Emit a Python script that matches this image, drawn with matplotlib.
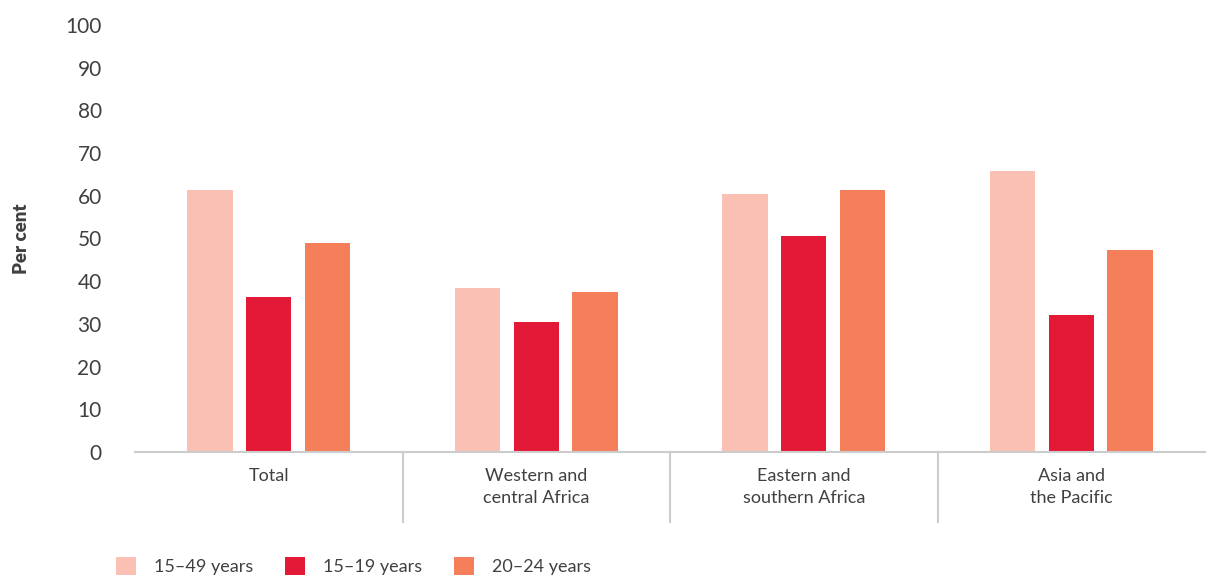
import matplotlib
matplotlib.use("Agg")
import matplotlib.pyplot as plt
from matplotlib.patches import Patch
import numpy as np

plt.rcParams['font.family'] = ['Lato', 'DejaVu Sans']

categories = ["Total", "Western and\ncentral Africa", "Eastern and\nsouthern Africa", "Asia and\nthe Pacific"]
series_names = ["15\u201349 years", "15\u201319 years", "20\u201324 years"]
v_15_49 = [61.4, 38.3, 60.5, 65.9]
v_15_19 = [36.4, 30.4, 50.7, 32.1]
v_20_24 = [49.0, 37.4, 61.4, 47.2]
yticks = list(range(0, 101, 10))

colors = ["#F9C0B3", "#E31937", "#F47F5A"]
text_color = "#404040"

fig = plt.figure(figsize=(12.14, 5.76), dpi=100)
ax = fig.add_axes([135/1214, 124/576, 1070/1214, (452-25)/576])

x = np.arange(len(categories))
width = 0.17
step = 0.22
for i, (vals, c) in enumerate(zip([v_15_49, v_15_19, v_20_24], colors)):
    ax.bar(x + (i-1)*step, vals, width, color=c, zorder=2)

ax.set_xlim(-0.5, len(categories)-0.5)
ax.set_ylim(0, 100)
ax.set_yticks(yticks)
ax.set_yticklabels([str(t) for t in yticks], fontsize=15, color=text_color)
ax.tick_params(axis='y', length=0, pad=24)
ax.set_xticks([])
for s in ["top", "right", "left"]:
    ax.spines[s].set_visible(False)
ax.spines["bottom"].set_color("#CCCCCC")
ax.spines["bottom"].set_linewidth(1.5)
ax.set_ylabel("Per cent", fontsize=13.5, fontweight='heavy', color=text_color)
ax.yaxis.set_label_coords(-0.098, 0.5)

# category labels and dividers
trans = ax.get_xaxis_transform()
for i, cat in enumerate(categories):
    ax.text(i, -0.038, cat, transform=trans, ha='center', va='top',
            fontsize=13, color=text_color, linespacing=1.45)
for i in range(1, len(categories)):
    ax.plot([i-0.5, i-0.5], [0, -70/427], transform=trans, color="#CCCCCC",
            lw=1.5, clip_on=False)

handles = [Patch(facecolor=c, edgecolor='none') for c in colors]
fig.legend(handles, series_names, loc='center left', bbox_to_anchor=(100/1214, 1-566/576),
           ncol=3, frameon=False, fontsize=13, handlelength=1.1, handleheight=1.2,
           columnspacing=1.75, handletextpad=1.0, labelcolor=text_color)

fig.savefig("out.png", dpi=100)
